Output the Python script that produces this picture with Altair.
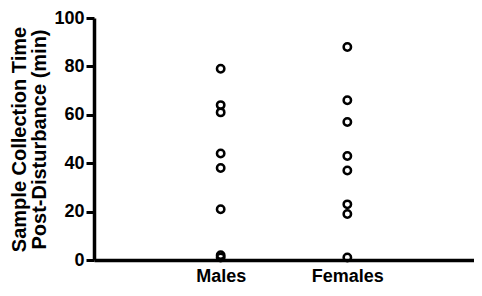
import altair as alt
import pandas as pd

groups = ["Males", "Females"]
males = [79, 64, 61, 44, 38, 21, 2, 1]
females = [88, 66, 57, 43, 37, 23, 19, 1]
y_ticks = [0, 20, 40, 60, 80, 100]

rows = []
for i, (g, vals) in enumerate(zip(groups, [males, females])):
    for v in vals:
        rows.append({"group": g, "pos": i + 1, "time": v})
df = pd.DataFrame(rows)

label_expr = "datum.value == 1 ? '%s' : (datum.value == 2 ? '%s' : '')" % (groups[0], groups[1])

chart = alt.Chart(df).mark_point(
    shape="circle", filled=False, size=55, strokeWidth=2.5, color="black", opacity=1
).encode(
    x=alt.X("pos:Q", scale=alt.Scale(domain=[0, 3], nice=False, zero=False),
            axis=alt.Axis(values=[1, 2], labelExpr=label_expr, title=None, grid=False,
                          ticks=False, labelPadding=7, domainWidth=3.5, domainColor="black",
                          labelFont="Liberation Sans", labelFontWeight="bold", labelFontSize=18,
                          labelColor="black")),
    y=alt.Y("time:Q", scale=alt.Scale(domain=[0, 100], nice=False),
            axis=alt.Axis(values=y_ticks, title=["Sample Collection Time", "Post-Disturbance (min)"],
                          grid=False, tickSize=8, tickWidth=3, tickColor="black",
                          domainWidth=3.5, domainColor="black", labelPadding=2,
                          labelFont="Liberation Sans", labelFontWeight="bold", labelFontSize=18,
                          labelColor="black", titleFont="Liberation Sans", titleFontWeight="bold",
                          titleFontSize=20, titleColor="black", titleLineHeight=20,
                          titlePadding=4)),
).properties(
    width=380, height=242,
    autosize=alt.AutoSizeParams(type="none"),
    padding={"left": 86, "top": 10, "right": 0, "bottom": 24},
).configure_view(stroke=None)

chart.save("out.html", embed_options={"renderer": "svg", "actions": False})
